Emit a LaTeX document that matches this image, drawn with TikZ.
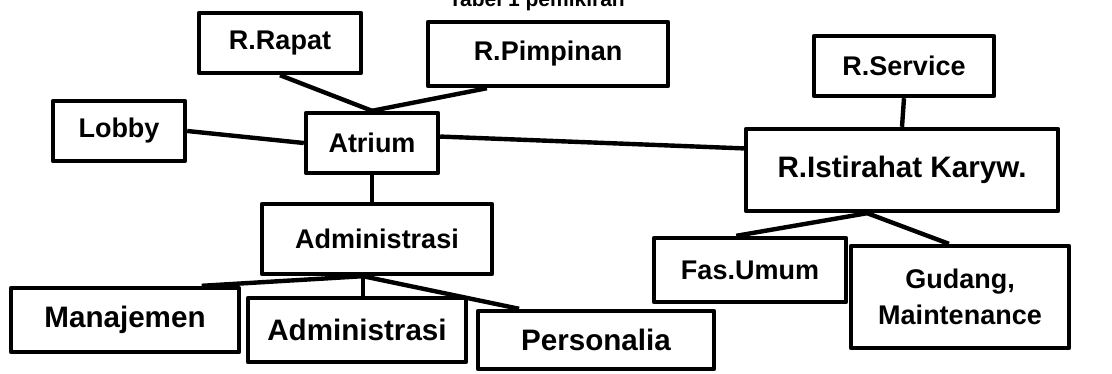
\documentclass[tikz,border=0pt]{standalone}
\usepackage{fontspec}
\setmainfont{Liberation Sans}
\usetikzlibrary{positioning, calc}

\begin{document}
\begin{tikzpicture}[x=0.5pt, y=-0.5pt, line width=2.2pt, line join=round,
    room/.style={draw, line width=2.2pt, inner sep=2pt, align=center,
      font=\bfseries\fontsize{13.5}{18}\selectfont},
    bigroom/.style={room, font=\bfseries\fontsize{14.8}{19}\selectfont}]
  \useasboundingbox (0,0) rectangle (1112,374);

  % judul, terpotong di tepi atas
  \node[font=\bfseries\fontsize{10.5}{12}\selectfont, anchor=base east, inner sep=0pt] (judul) at (627,7) {Tabel 1 pemikiran};

  % kelompok atrium
  \node[room, minimum width=81pt, minimum height=30pt] (rapat) at (280,43) {R.Rapat};
  \node[room, minimum width=120pt, minimum height=32pt] (pimpinan) at (548,54) {R.Pimpinan};
  \node[room, minimum width=66pt, minimum height=30pt] (lobby) at (119,131) {Lobby};
  \node[room, minimum width=66pt, minimum height=30pt] (atrium) at (372,143) {Atrium};
  \node[room, minimum width=115pt, minimum height=35pt] (admin) at (377,239) {Administrasi};
  \node[bigroom, minimum width=114pt, minimum height=32pt] (manajemen) at (125,320) {Manajemen};
  \node[bigroom, minimum width=109pt, minimum height=32pt] (staf) at (357,330) {Administrasi};
  \node[bigroom, minimum width=118pt, minimum height=29pt] (personalia) at (596,340) {Personalia};

  % kelompok servis
  \node[room, minimum width=90pt, minimum height=30pt] (service) at (904,66) {R.Service};
  \node[bigroom, minimum width=156pt, minimum height=41pt] (istirahat) at (902,170) {R.Istirahat Karyw.};
  \node[room, minimum width=96pt, minimum height=32pt] (fasum) at (750,270) {Fas.Umum};
  \node[room, minimum width=109pt, minimum height=51pt] (gudang) at (960,297) {Gudang,\\Maintenance};

  % hubungan
  \draw (rapat.south) -- (atrium.north);
  \draw ($(pimpinan.south west)!0.25!(pimpinan.south east)$) -- (atrium.north);
  \draw (lobby.east) -- (atrium.west);
  \draw ($(atrium.north east)!0.4!(atrium.south east)$) -- ($(istirahat.north west)!0.25!(istirahat.south west)$);
  \draw (atrium.south) -- (atrium.south |- admin.north);
  \coordinate (cabang) at ($(admin.south west)!0.44!(admin.south east)$);
  \draw ($(manajemen.north west)!0.83!(manajemen.north east)$) -- (cabang) -- ($(personalia.north west)!0.18!(personalia.north east)$);
  \draw (cabang) -- (cabang |- staf.north);
  \draw (service.south) -- (istirahat.north);
  \coordinate (pisah) at ($(istirahat.south west)!0.39!(istirahat.south east)$);
  \draw ($(fasum.north west)!0.43!(fasum.north east)$) -- (pisah) -- ($(gudang.north west)!0.45!(gudang.north east)$);
\end{tikzpicture}
\end{document}
